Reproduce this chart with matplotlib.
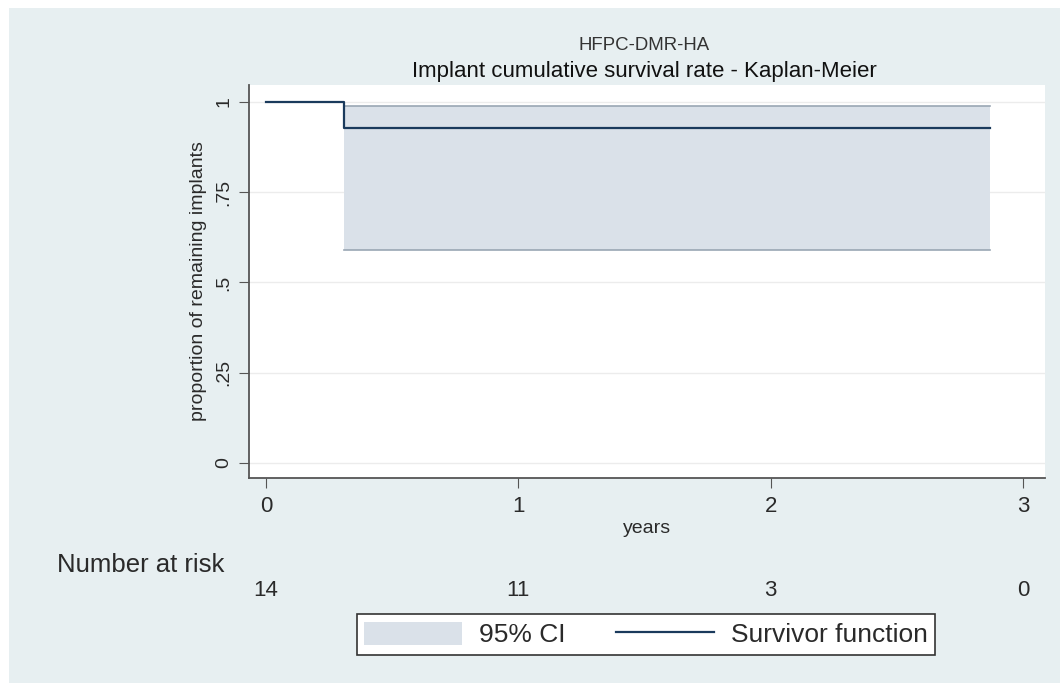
import matplotlib.pyplot as plt
from matplotlib.patches import Patch, Rectangle
from matplotlib.lines import Line2D

plt.rcParams['font.family'] = ['Liberation Sans', 'DejaVu Sans']

# Kaplan-Meier Daten
km_time = [0, 0.31, 2.87]
km_surv = [1.0, 0.929, 0.929]
ci_time = [0.31, 2.87]
ci_lower = [0.591, 0.591]
ci_upper = [0.990, 0.990]

risk_years = [0, 1, 2, 3]
risk_counts = [14, 11, 3, 0]
y_ticks = [0, 0.25, 0.5, 0.75, 1]
y_ticklabels = ['0', '.25', '.5', '.75', '1']

bg = '#e7eff1'
navy = '#1a3a5c'
ci_col = '#dae1e9'
txt = '#2a2a2a'

W, H = 1060, 683
fig = plt.figure(figsize=(W / 100, H / 100), dpi=100)
fig.patch.set_facecolor('white')
fig.patches.append(Rectangle((9 / W, 0), (W - 9) / W, (H - 8) / H,
                             transform=fig.transFigure, facecolor=bg,
                             edgecolor='none', zorder=-10))

ax = fig.add_axes([249 / W, 1 - 478 / H, (1045 - 249) / W, (478 - 85) / H])
ax.set_zorder(1)
ax.set_facecolor('white')

# Konfidenzband
ax.fill_between(ci_time, ci_lower, ci_upper, step='post', color=ci_col,
                linewidth=0, zorder=2)
ax.step(ci_time, ci_lower, where='post', color='#9aa7b4', lw=1.2, zorder=3)
ax.step(ci_time, ci_upper, where='post', color='#9aa7b4', lw=1.2, zorder=3)
# Survivor function
ax.step(km_time, km_surv, where='post', color=navy, lw=1.6, zorder=4)

ax.set_xlim(-0.067, 3.087)
ax.set_ylim(-0.042, 1.047)
ax.set_xticks(risk_years)
ax.set_yticks(y_ticks)
ax.set_yticklabels(y_ticklabels, rotation=90, va='center')
ax.tick_params(axis='x', labelsize=16, length=7, color='#555555',
               labelcolor=txt, pad=6)
ax.tick_params(axis='y', labelsize=14, length=7, color='#555555',
               labelcolor=txt, pad=5)
ax.grid(axis='y', color='#ececec', lw=1)
ax.set_axisbelow(True)
for s in ['top', 'right']:
    ax.spines[s].set_visible(False)
for s in ['left', 'bottom']:
    ax.spines[s].set_color('#555555')
    ax.spines[s].set_linewidth(1.3)

ax.set_xlabel('years', fontsize=14, labelpad=2, color=txt)
ax.set_ylabel('proportion of remaining implants', fontsize=14, labelpad=6,
              color=txt)

fig.text(644 / W, 1 - 45 / H, 'HFPC-DMR-HA', ha='center', va='center',
         fontsize=13.4, color='#333333')
fig.text(644 / W, 1 - 72 / H, 'Implant cumulative survival rate - Kaplan-Meier',
         ha='center', va='center', fontsize=16, color='#111111')

# Number at risk
fig.text(57 / W, 1 - 565 / H, 'Number at risk', ha='left', va='center',
         fontsize=18.5, color=txt)
for yr, n in zip(risk_years, risk_counts):
    ax.text(yr, (478 - 591) / (478 - 85), str(n), ha='center', va='center',
            fontsize=16, color=txt, transform=ax.get_xaxis_transform(),
            clip_on=False)

handles = [Patch(facecolor=ci_col, edgecolor='none'),
           Line2D([], [], color=navy, lw=1.6)]
leg = fig.legend(handles, ['95% CI', 'Survivor function'], ncol=2,
                 loc='center', bbox_to_anchor=(646 / W, 1 - 634.5 / H),
                 fontsize=19, frameon=True, fancybox=False, framealpha=1,
                 handlelength=3.7, handleheight=1.0, handletextpad=0.65,
                 columnspacing=1.9, borderpad=0.3, labelcolor=txt)
leg.get_frame().set_edgecolor('#333333')
leg.get_frame().set_linewidth(1.2)

fig.savefig('out.png', dpi=100, facecolor=fig.get_facecolor())
